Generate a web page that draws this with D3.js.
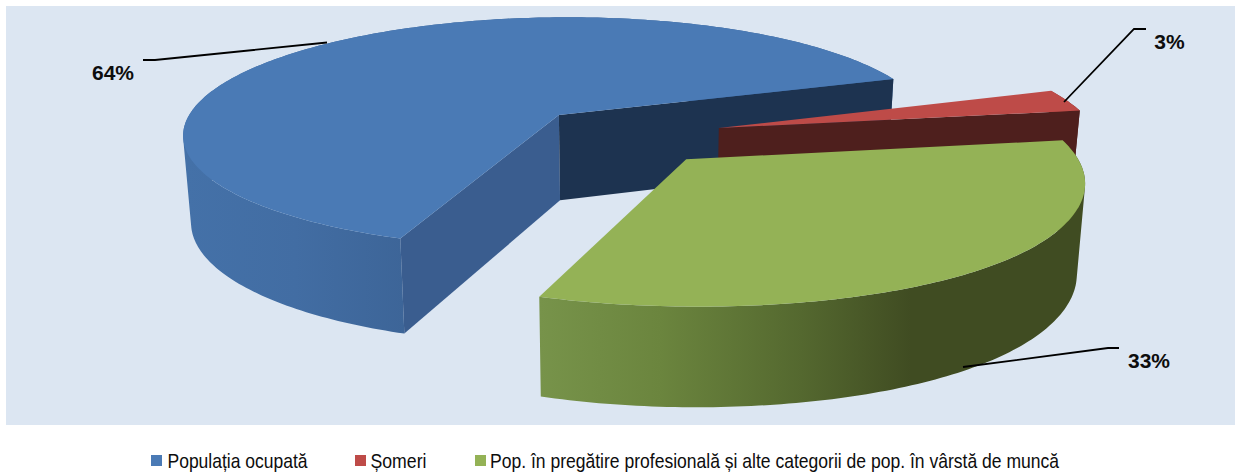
<!DOCTYPE html>
<html><head><meta charset="utf-8">
<script src="https://cdn.jsdelivr.net/npm/d3@7"></script>
<style>html,body{margin:0;padding:0;background:#fff}svg{display:block}</style></head>
<body><svg id="c" width="1241" height="473"></svg>
<script>
const categories=["Populația ocupată","Șomeri","Pop. în pregătire profesională și alte categorii de pop. în vârstă de muncă"];
const values=[64,3,33];
const labels=["64%","3%","33%"];
const topColors=["#4a7ab5","#be4b48","#94b256"];
const wallStart=["#3a5d8f",null,null];
const wallEnd=["#1d3350","#4e1f1d",null];
const sideStops=[
  [[0,"#4471a8"],[0.5,"#426da3"],[1,"#3d6598"]],
  [[0,"#9c3d3a"],[1,"#4e1f1d"]],
  [[0,"#77934a"],[0.22,"#6b853e"],[0.48,"#54682f"],[0.68,"#404c22"],[1,"#404c22"]]];

const svg=d3.select("#c");
svg.append("rect").attr("x",6).attr("y",6).attr("width",1229).attr("height",419).attr("fill","#dce6f2");
const defs=svg.append("defs");

const startDeg=200, explode=[0.25,0.26,0.25], R=380, ry=119, k=0.157, soft=0.1, h=87, heightPow=0.7, shrink=0.018, cx=624, cy=135.5;
const pie=d3.pie().sort(null).startAngle(startDeg*Math.PI/180).endAngle((startDeg+360)*Math.PI/180);
const arcs=pie(values);
function proj(X,Y,z){
  const s=1/(1-k*Y);
  const f=z?1-shrink:1;
  const Ys=Y-soft*Math.pow(Math.max(0,Y-0.7),2);
  return [cx+R*X*s*f, cy+ry*Ys*s+(z?h*Math.pow(s,heightPow):0)];
}
const lineGen=d3.line();
const extents=[[185,405],[1050,1085],[540,1085]];

function drawSlice(i){
  const a=arcs[i], mid=(a.startAngle+a.endAngle)/2;
  const ox=explode[i]*Math.sin(mid), oy=-explode[i]*Math.cos(mid);
  const n=Math.max(8,Math.round((a.endAngle-a.startAngle)*60));
  const rim=d3.range(n+1).map(j=>{
    const t=a.startAngle+(a.endAngle-a.startAngle)*j/n;
    return [ox+Math.sin(t),oy-Math.cos(t)];
  });
  const top=rim.map(p=>proj(p[0],p[1],false));
  const bot=rim.map(p=>proj(p[0],p[1],true));
  const g=defs.append("linearGradient").attr("id","g"+i).attr("gradientUnits","userSpaceOnUse")
    .attr("x1",extents[i][0]).attr("x2",extents[i][1]).attr("y1",0).attr("y2",0);
  sideStops[i].forEach(s=>g.append("stop").attr("offset",s[0]).attr("stop-color",s[1]));
  const quads=d3.range(n).map(j=>{
    const q=[top[j],top[j+1],bot[j+1],bot[j]];
    if(d3.polygonArea(q)<0) q.reverse();
    return lineGen(q)+"Z";
  }).join("");
  svg.append("path").attr("d",quads).attr("fill",`url(#g${i})`);
  const ap=proj(ox,oy,false), apb=proj(ox,oy,true);
  const wall=(p,q,c)=>{ if(c) svg.append("path").attr("d",lineGen([ap,p,q,apb])+"Z").attr("fill",c); };
  wall(top[0],bot[0],wallStart[i]);
  wall(top[n],bot[n],wallEnd[i]);
  svg.append("path").attr("d",lineGen([ap].concat(top))+"Z").attr("fill",topColors[i]);
}
[0,1,2].forEach(drawSlice);

const leaders=[[[327,42.5],[155,60],[143,60]],[[1064,102],[1134,29],[1146,29]],[[963,367],[1108,348],[1119,348]]];
leaders.forEach(l=>svg.append("path").attr("d",lineGen(l)).attr("fill","none").attr("stroke","#000").attr("stroke-width",1.8));
const labelPos=[[113,80],[1169.5,49],[1149,368]];
labels.forEach((t,i)=>svg.append("text").attr("x",labelPos[i][0]).attr("y",labelPos[i][1])
  .attr("text-anchor","middle").attr("font-family","Liberation Sans").attr("font-weight","bold").attr("font-size",21).attr("fill","#0d0d0d").text(t));

const legX=[[151,167.5,140],[355,370.5,56],[475,490,569]];
categories.forEach((t,i)=>{
  svg.append("rect").attr("x",legX[i][0]).attr("y",455).attr("width",11).attr("height",11).attr("fill",topColors[i]);
  svg.append("text").attr("x",legX[i][1]).attr("y",468).attr("font-family","Liberation Sans").attr("font-size",21)
    .attr("textLength",legX[i][2]).attr("lengthAdjust","spacingAndGlyphs").attr("fill","#0d0d0d").text(t);
});
</script></body></html>
